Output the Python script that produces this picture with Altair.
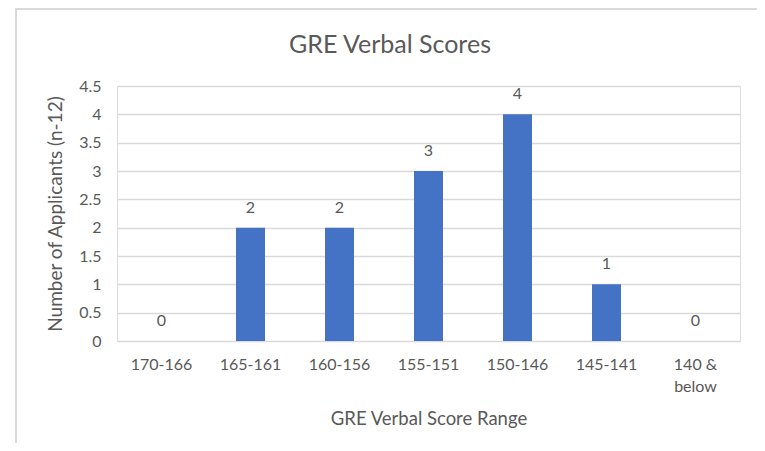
import altair as alt
import pandas as pd

chart_title = "GRE Verbal Scores"
x_title = "GRE Verbal Score Range"
y_title = "Number of Applicants (n-12)"
categories = ["170-166", "165-161", "160-156", "155-151", "150-146", "145-141", "140 & below"]
counts = [0, 2, 2, 3, 4, 1, 0]
y_ticks = [0, 0.5, 1, 1.5, 2, 2.5, 3, 3.5, 4, 4.5]

df = pd.DataFrame({"range": categories, "count": counts})

FONT = "Lato"
TXT = "#595959"
GRID = "#d9d9d9"

x_enc = alt.X(
    "range:N",
    sort=categories,
    title=x_title,
    scale=alt.Scale(paddingInner=0, paddingOuter=0),
    axis=alt.Axis(
        labelAngle=0,
        domain=False,
        ticks=False,
        labelPadding=15,
        labelFontSize=16,
        labelColor=TXT,
        labelFont=FONT,
        titleFont=FONT,
        titleFontSize=18.5,
        titleColor=TXT,
        titleFontWeight="normal",
        titlePadding=15,
        labelExpr="datum.value == '140 & below' ? ['140 &', 'below'] : datum.value",
        labelLineHeight=22,
    ),
)

y_enc = alt.Y(
    "count:Q",
    title=y_title,
    scale=alt.Scale(domain=[0, 4.5], nice=False),
    axis=alt.Axis(
        values=y_ticks,
        format="~g",
        domain=False,
        ticks=False,
        labelPadding=16,
        labelFontSize=16,
        labelColor=TXT,
        labelFont=FONT,
        labelOverlap=False,
        gridColor=GRID,
        gridWidth=1.4,
        titleFont=FONT,
        titleFontSize=19,
        titleColor=TXT,
        titleFontWeight="normal",
        titlePadding=13,
    ),
)

base = alt.Chart(df)

bars = base.mark_bar(size=29, color="#4472C4").encode(x=x_enc, y=y_enc)

labels = base.mark_text(
    dy=-20, baseline="middle", align="center", font=FONT, fontSize=16, color=TXT
).encode(x=x_enc, y=y_enc, text="count:Q")

frame = alt.Chart(pd.DataFrame({"f": [0]})).mark_rect(
    fillOpacity=0, stroke=GRID, strokeWidth=2
).encode(
    x=alt.value(-101), x2=alt.value(644), y=alt.value(-77), y2=alt.value(500)
)

title_mark = alt.Chart(pd.DataFrame({"t": [chart_title]})).mark_text(
    font=FONT, fontSize=25, color=TXT, align="center", baseline="middle"
).encode(x=alt.value(273), y=alt.value(-41), text="t:N")

chart = (
    alt.layer(frame, bars, labels, title_mark)
    .properties(
        width=623,
        height=255,
        autosize=alt.AutoSizeParams(type="none"),
        padding={"left": 109, "top": 78, "right": 17, "bottom": 102},
    )
    .configure_view(stroke=None)
    .configure(background="white")
)

chart.save("out.html", embed_options={"renderer": "svg", "actions": False})
